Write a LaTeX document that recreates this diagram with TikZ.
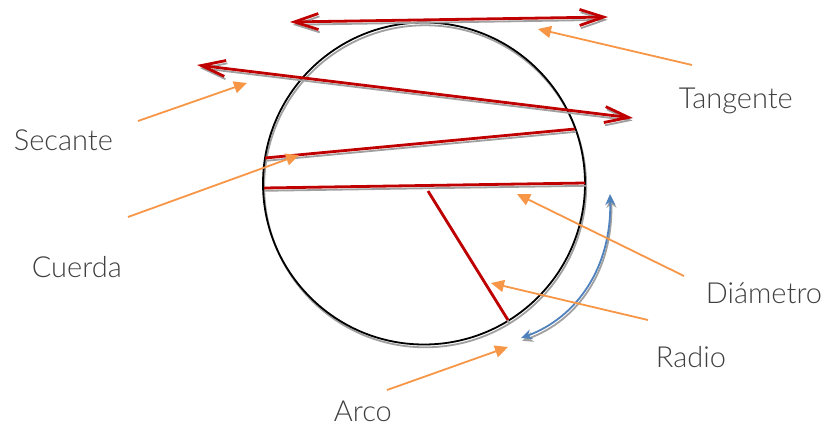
\documentclass[tikz,border=0pt]{standalone}
\usepackage{fontspec}
\setmainfont{Lato Light}
\usetikzlibrary{arrows.meta}
\definecolor{ink}{HTML}{404040}
\definecolor{wine}{HTML}{C00000}
\definecolor{steel}{HTML}{4F81BD}
\definecolor{amber}{HTML}{F79646}
\definecolor{haze}{HTML}{A0A0A0}

\begin{document}
\begin{tikzpicture}[x=1pt,y=-1pt,line width=1.8pt]
  \tikzset{
    shade/.style={preaction={draw=haze,transform canvas={shift={(1.2pt,-2.8pt)}}}},
    seg/.style={draw=wine,line width=2.8pt,shade},
    ray/.style={seg,{Straight Barb[length=24pt,width=16pt]}-{Straight Barb[length=24pt,width=16pt]}},
    hint/.style={-{Triangle[length=13pt,width=12pt]},draw=amber,line width=1.8pt},
    lbl/.style={anchor=base west,text=ink,font=\fontsize{29}{34}\selectfont,inner sep=0pt}
  }
  \useasboundingbox (0,0) rectangle (825,428);

  % circle and its lines
  \coordinate (o) at (424,183.5);
  \draw[shade] (o) circle[radius=161pt];
  \coordinate (t1) at (290,22);  \coordinate (t2) at (608,17);
  \coordinate (s1) at (197,65);  \coordinate (s2) at (633,118);
  \coordinate (c1) at (265,158); \coordinate (c2) at (575,129);
  \coordinate (d1) at (264,188); \coordinate (d2) at (585,183);
  \coordinate (r1) at (428,191); \coordinate (r2) at (508,320);
  \draw[ray] (t1) -- (t2);
  \draw[ray] (s1) -- (s2);
  \draw[seg] (c1) -- (c2);
  \draw[seg] (d1) -- (d2);
  \draw[seg] (r1) -- (r2);

  % arc
  \coordinate (a1) at (610,194); \coordinate (a2) at (521,338);
  \draw[steel,shade,{Stealth[length=11pt,width=10pt]}-{Stealth[length=11pt,width=10pt]}]
    (a1) .. controls (612,268) and (576,318) .. (a2);

  % labels
  \node[lbl] (tan) at (678,109) {Tangente};
  \node[lbl] (sec) at (13,150) {Secante};
  \node[lbl] (cue) at (31,277) {Cuerda};
  \node[lbl] (dia) at (705,303) {Diámetro};
  \node[lbl] (rad) at (655,367) {Radio};
  \node[lbl] (arc) at (333,421.5) {Arco};

  \coordinate (ht) at (538,29);  \coordinate (qt) at (692,65);
  \coordinate (hs) at (247,83);  \coordinate (qs) at (138,121);
  \coordinate (hc) at (299,155); \coordinate (qc) at (128,217);
  \coordinate (hd) at (517,194); \coordinate (qd) at (684,276);
  \coordinate (hr) at (491,283); \coordinate (qr) at (648,320);
  \coordinate (ha) at (508,347); \coordinate (qa) at (387,390);
  \foreach \x in {t,s,c,d,r,a}
    \draw[hint] (q\x) -- (h\x);
\end{tikzpicture}
\end{document}
